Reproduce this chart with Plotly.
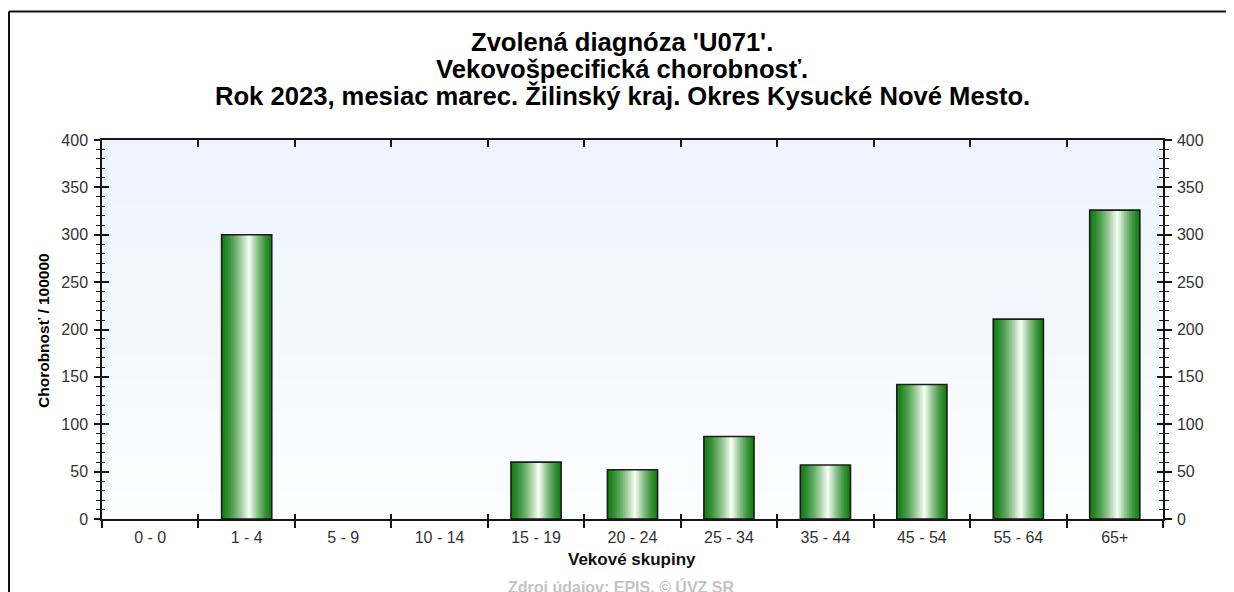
import plotly.graph_objects as go

categories = ["0 - 0", "1 - 4", "5 - 9", "10 - 14", "15 - 19", "20 - 24",
              "25 - 34", "35 - 44", "45 - 54", "55 - 64", "65+"]
values = [0, 300, 0, 0, 60, 52, 87, 57, 142, 211, 326]

title_lines = ["Zvolená diagnóza 'U071'.",
               "Vekovošpecifická chorobnosť.",
               "Rok 2023, mesiac marec. Žilinský kraj. Okres Kysucké Nové Mesto."]
x_title = "Vekové skupiny"
y_title = "Chorobnosť / 100000"
source_text = "Zdroj údajov: EPIS. © ÚVZ SR"

FONT = "Liberation Sans, Arial, sans-serif"
W = 0.52      # bar width (category units)
N = 32        # gradient strips

FW, FH = 1234, 592
OFF = 8       # page body margin offset
# plot area in screen pixels
SL, ST, SR, SB = 102, 140, 1163, 519
L, T = SL - OFF, ST - OFF
R, B = FW - (SR - OFF), FH - (SB - OFF)
PW, PH = SR - SL, SB - ST


def px_x(sx):
    return (sx - SL) / PW


def px_y(sy):
    return (SB - sy) / PH


def strip_color(t):
    tp = 0.55
    f = 1 - abs(t - tp) / (tp if t < tp else 1 - tp)
    f = max(0.0, f) ** 1.4
    dark = (20, 126, 20)
    light = (250, 255, 250)
    c = [round(d + (l - d) * f) for d, l in zip(dark, light)]
    return "rgb(%d,%d,%d)" % tuple(c)


bar_y = [v if v else None for v in values]

fig = go.Figure()

step = W / N
for i in range(N):
    off = -W / 2 + i * step
    wid = min(step * 1.6, W / 2 - off)
    fig.add_trace(go.Bar(
        x=categories, y=bar_y, width=wid, offset=off,
        marker=dict(color=strip_color((i + 0.5) / N), line=dict(width=0)),
        hoverinfo="skip", showlegend=False))

# outline
fig.add_trace(go.Bar(
    x=categories, y=bar_y, width=W, offset=-W / 2,
    marker=dict(color="rgba(0,0,0,0)", line=dict(color="#1c1c1c", width=1.6)),
    showlegend=False))

# invisible helper traces for extra tick axes
for xa, ya in [("x2", "y"), ("x3", "y"), ("x", "y2"), ("x", "y3"), ("x", "y4")]:
    fig.add_trace(go.Scatter(x=categories, y=values, xaxis=xa, yaxis=ya,
                             mode="markers", marker=dict(opacity=0),
                             hoverinfo="skip", showlegend=False))

# plot-area gradient background
NB = 60
for k in range(NB):
    f = k / (NB - 1)
    top = (237, 244, 254)
    bot = (252, 253, 255)
    c = [round(bot[j] + (top[j] - bot[j]) * f) for j in range(3)]
    fig.add_shape(type="rect", xref="x domain", yref="y domain",
                  x0=0, x1=1, y0=k / NB, y1=(k + 1) / NB + 0.002,
                  fillcolor="rgb(%d,%d,%d)" % tuple(c), line=dict(width=0),
                  layer="below")

# outer frame: left and top edges only
fig.add_shape(type="line", xref="paper", yref="paper",
              x0=px_x(9), x1=px_x(9), y0=px_y(700), y1=px_y(11.5),
              line=dict(color="#111", width=2))
fig.add_shape(type="line", xref="paper", yref="paper",
              x0=px_x(9), x1=px_x(1300), y0=px_y(11.5), y1=px_y(11.5),
              line=dict(color="#111", width=2))

AXC = "#151515"
TICKF = dict(family=FONT, size=16, color="#333")
cat_common = dict(type="category", categoryorder="array", categoryarray=categories,
                  range=[-0.5, len(categories) - 0.5], tickson="boundaries",
                  showgrid=False, zeroline=False, tickcolor=AXC, tickwidth=1.5)
y_common = dict(range=[0, 400], dtick=50, showgrid=False, zeroline=False,
                tickcolor=AXC, tickwidth=1.5, fixedrange=True)

fig.update_layout(
    width=FW, height=FH,
    margin=dict(l=L, r=R, t=T, b=B, pad=0),
    paper_bgcolor="white", plot_bgcolor="white",
    barmode="overlay", showlegend=False,
    font=dict(family=FONT, color="#333"),
    xaxis=dict(**cat_common, ticks="outside", ticklen=7, showline=True,
               linecolor=AXC, linewidth=1.5, tickfont=TICKF, anchor="y",
               ticklabelstandoff=3),
    xaxis2=dict(**cat_common, overlaying="x", side="top", anchor="y",
                ticks="inside", ticklen=7, showline=True, linecolor=AXC,
                linewidth=1.5, showticklabels=False),
    xaxis3=dict(**cat_common, overlaying="x", side="bottom", anchor="y",
                ticks="inside", ticklen=5, showline=False, showticklabels=False),
    yaxis=dict(**y_common, side="left", anchor="x", ticks="outside", ticklen=6,
               minor=dict(dtick=10, ticks="outside", ticklen=4, tickcolor=AXC,
                          tickwidth=1.2, showgrid=False),
               showline=True, linecolor=AXC, linewidth=1.5, tickfont=TICKF,
               ticklabelstandoff=3),
    yaxis2=dict(**y_common, side="right", anchor="x", overlaying="y",
                ticks="outside", ticklen=7,
                minor=dict(dtick=10, ticks="outside", ticklen=4, tickcolor=AXC,
                           tickwidth=1.2, showgrid=False),
                showline=True, linecolor=AXC, linewidth=1.5, tickfont=TICKF,
                ticklabelstandoff=2),
    yaxis3=dict(**y_common, side="left", anchor="x", overlaying="y",
                ticks="inside", ticklen=7,
                minor=dict(dtick=10, ticks="inside", ticklen=3, tickcolor=AXC,
                           tickwidth=1.2, showgrid=False),
                showline=False, showticklabels=False),
    yaxis4=dict(**y_common, side="right", anchor="x", overlaying="y",
                ticks="inside", ticklen=6,
                minor=dict(dtick=10, ticks="inside", ticklen=4, tickcolor=AXC,
                           tickwidth=1.2, showgrid=False),
                showline=False, showticklabels=False),
)

title_y = [42, 69, 96]
for line, yy in zip(title_lines, title_y):
    fig.add_annotation(text="<b>%s</b>" % line, xref="paper", yref="paper",
                       x=px_x(622), y=px_y(yy), xanchor="center", yanchor="middle",
                       showarrow=False,
                       font=dict(family=FONT, size=25.6, color="#000"))

fig.add_annotation(text="<b>%s</b>" % y_title, xref="paper", yref="paper",
                   x=px_x(43), y=px_y(331), xanchor="center", yanchor="middle",
                   textangle=-90, showarrow=False,
                   font=dict(family=FONT, size=15.5, color="#000"))
fig.add_annotation(text="<b>%s</b>" % x_title, xref="paper", yref="paper",
                   x=px_x(632), y=px_y(559), xanchor="center", yanchor="middle",
                   showarrow=False,
                   font=dict(family=FONT, size=17, color="#111"))
fig.add_annotation(text="<b>%s</b>" % source_text, xref="paper", yref="paper",
                   x=px_x(621), y=px_y(587), xanchor="center", yanchor="middle",
                   showarrow=False,
                   font=dict(family=FONT, size=16, color="#c3c3c3"))

fig.write_html("out.html")
